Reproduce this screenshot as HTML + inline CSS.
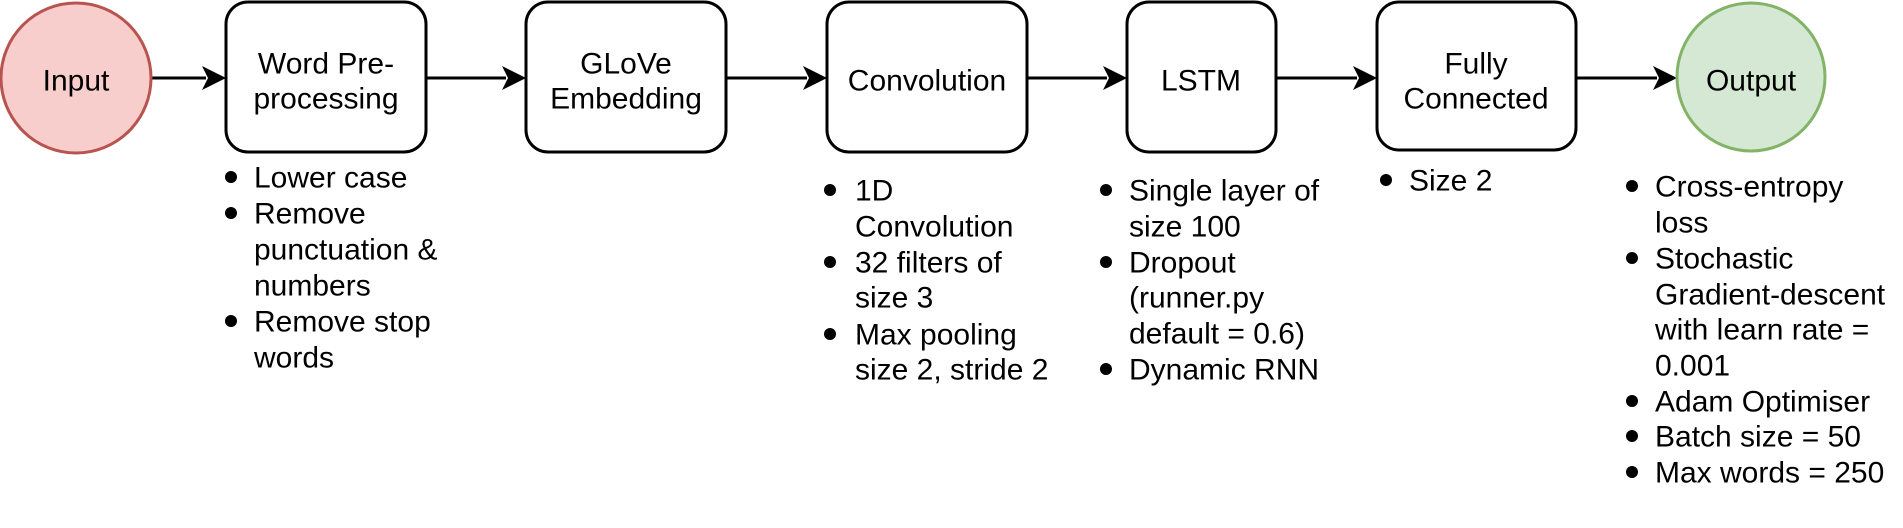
<!DOCTYPE html>
<html><head><meta charset="utf-8"><style>
html,body{margin:0;padding:0;background:#fff;}
svg{display:block;}
text{font-family:"Liberation Sans",sans-serif;font-size:30px;fill:#000;}
</style></head><body>
<svg width="1903" height="528" viewBox="0 0 1903 528" xmlns="http://www.w3.org/2000/svg">
<defs><marker id="a" markerWidth="10" markerHeight="10" refX="9" refY="5" orient="auto" markerUnits="userSpaceOnUse" viewBox="0 0 10 10">
</marker></defs>
<g stroke="#000" stroke-width="3" fill="none">
<line x1="152" y1="78" x2="206" y2="78"/>
<line x1="427" y1="78" x2="506" y2="78"/>
<line x1="727" y1="78" x2="807" y2="78"/>
<line x1="1028" y1="78" x2="1107" y2="78"/>
<line x1="1277" y1="78" x2="1357" y2="78"/>
<line x1="1577" y1="78" x2="1657" y2="78"/>
</g>
<g fill="#000">
<path d="M226 78 L202 66 L208 78 L202 90 Z"/>
<path d="M526 78 L502 66 L508 78 L502 90 Z"/>
<path d="M827 78 L803 66 L809 78 L803 90 Z"/>
<path d="M1127 78 L1103 66 L1109 78 L1103 90 Z"/>
<path d="M1377 78 L1353 66 L1359 78 L1353 90 Z"/>
<path d="M1677 78 L1653 66 L1659 78 L1653 90 Z"/>
</g>
<ellipse cx="76" cy="78" rx="75" ry="75" fill="#f8cecc" stroke="#b85450" stroke-width="3"/>
<ellipse cx="1751" cy="77" rx="74" ry="74" fill="#d5e8d4" stroke="#82b366" stroke-width="3"/>
<g fill="#fff" stroke="#000" stroke-width="3">
<rect x="226" y="2" width="200" height="150" rx="22"/>
<rect x="526" y="2" width="200" height="150" rx="22"/>
<rect x="827" y="2" width="200" height="150" rx="22"/>
<rect x="1127" y="2" width="149" height="150" rx="22"/>
<rect x="1377" y="2" width="199" height="148" rx="22"/>
</g>
<g text-anchor="middle" dominant-baseline="central">
<text x="76" y="81">Input</text>
<text x="326" y="64">Word Pre-</text><text x="326" y="99">processing</text>
<text x="626" y="64">GLoVe</text><text x="626" y="99">Embedding</text>
<text x="927" y="81">Convolution</text>
<text x="1201" y="81">LSTM</text>
<text x="1476" y="64">Fully</text><text x="1476" y="99">Connected</text>
<text x="1751" y="81">Output</text>
</g>
<g fill="#000">
<circle cx="231" cy="177" r="6"/><circle cx="231" cy="213" r="6"/><circle cx="231" cy="321" r="6"/>
<circle cx="830" cy="190" r="6"/><circle cx="830" cy="262" r="6"/><circle cx="830" cy="334" r="6"/>
<circle cx="1106" cy="190" r="6"/><circle cx="1106" cy="262" r="6"/><circle cx="1106" cy="369" r="6"/>
<circle cx="1386" cy="180" r="6"/>
<circle cx="1632" cy="186" r="6"/><circle cx="1632" cy="258" r="6"/><circle cx="1632" cy="401" r="6"/><circle cx="1632" cy="436" r="6"/><circle cx="1632" cy="472" r="6"/>
</g>
<g dominant-baseline="central">
<text x="254" y="178">Lower case</text>
<text x="254" y="214">Remove</text>
<text x="254" y="250">punctuation &amp;</text>
<text x="254" y="286">numbers</text>
<text x="254" y="322">Remove stop</text>
<text x="254" y="358">words</text>

<text x="855" y="191">1D</text>
<text x="855" y="227">Convolution</text>
<text x="855" y="263">32 filters of</text>
<text x="855" y="298">size 3</text>
<text x="855" y="335">Max pooling</text>
<text x="855" y="370">size 2, stride 2</text>

<text x="1129" y="191">Single layer of</text>
<text x="1129" y="227">size 100</text>
<text x="1129" y="263">Dropout</text>
<text x="1129" y="298">(runner.py</text>
<text x="1129" y="334">default = 0.6)</text>
<text x="1129" y="370">Dynamic RNN</text>

<text x="1409" y="181">Size 2</text>

<text x="1655" y="187">Cross-entropy</text>
<text x="1655" y="223">loss</text>
<text x="1655" y="259">Stochastic</text>
<text x="1655" y="295">Gradient-descent</text>
<text x="1655" y="330">with learn rate =</text>
<text x="1655" y="366">0.001</text>
<text x="1655" y="402">Adam Optimiser</text>
<text x="1655" y="437">Batch size = 50</text>
<text x="1655" y="473">Max words = 250</text>
</g>
</svg>
</body></html>
